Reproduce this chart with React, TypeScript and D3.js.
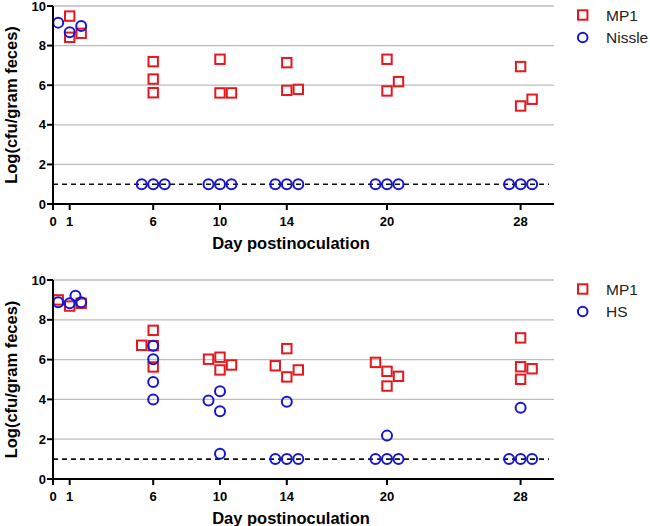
import * as d3 from "d3";

// x ticks (days) and y ticks
const dayTicks = [0, 1, 6, 10, 14, 20, 28];
const yTicks = [0, 2, 4, 6, 8, 10];
const detectionLimit = 1;

// [day, jitter slot, log cfu]
const topMP1 = [
  [1, 0, 9.49], [1, 0, 8.42], [1, 1, 8.62],
  [6, 0, 7.19], [6, 0, 6.31], [6, 0, 5.62],
  [10, 0, 7.31], [10, 0, 5.61], [10, 1, 5.61],
  [14, 0, 7.14], [14, 0, 5.74], [14, 1, 5.79],
  [20, 0, 7.31], [20, 0, 5.71], [20, 1, 6.18],
  [28, 0, 6.94], [28, 0, 4.95], [28, 1, 5.29],
];
const topNissle = [
  [1, -1, 9.16], [1, 0, 8.67], [1, 1, 8.99],
  [6, -1, 1], [6, 0, 1], [6, 1, 1],
  [10, -1, 1], [10, 0, 1], [10, 1, 1],
  [14, -1, 1], [14, 0, 1], [14, 1, 1],
  [20, -1, 1], [20, 0, 1], [20, 1, 1],
  [28, -1, 1], [28, 0, 1], [28, 1, 1],
];
const bottomMP1 = [
  [1, -1, 9.0], [1, 0, 8.69], [1, 1, 8.83],
  [6, -1, 6.72], [6, 0, 7.47], [6, 0, 6.7], [6, 0, 5.63],
  [10, -1, 6.02], [10, 0, 6.12], [10, 0, 5.48], [10, 1, 5.73],
  [14, -1, 5.69], [14, 0, 6.55], [14, 0, 5.13], [14, 1, 5.48],
  [20, -1, 5.86], [20, 0, 5.41], [20, 0, 4.67], [20, 1, 5.16],
  [28, 0, 7.09], [28, 0, 5.64], [28, 0, 5.01], [28, 1, 5.54],
];
const bottomHS = [
  [1, -1, 8.88], [1, 0, 8.83], [1, 0.5, 9.21], [1, 1, 8.88],
  [6, 0, 6.7], [6, 0, 6.02], [6, 0, 4.87], [6, 0, 4.0],
  [10, -1, 3.95], [10, 0, 4.41], [10, 0, 3.4], [10, 0, 1.27],
  [14, 0, 3.88], [14, -1, 1], [14, 0, 1], [14, 1, 1],
  [20, 0, 2.18], [20, -1, 1], [20, 0, 1], [20, 1, 1],
  [28, 0, 3.58], [28, -1, 1], [28, 0, 1], [28, 1, 1],
];

const RED = "#e3191f";
const BLUE = "#1616d2";
const FONT = "'Liberation Sans', Arial, sans-serif";
const JIT = 11.5;

const x = d3.scaleLinear().domain([0, 30]).range([53, 554]);

type Pt = number[];

const Panel = ({ y0, y1, mp1, other, otherName }: { y0: number; y1: number; mp1: Pt[]; other: Pt[]; otherName: string }) => {
  const y = d3.scaleLinear().domain([0, 10]).range([y0, y1]);
  const px = (d: Pt) => x(d[0]) + d[1] * JIT;
  return (
    <g>
      {yTicks.filter((t) => t > 0).map((t) => (
        <line key={"g" + t} x1={x(0)} x2={x(30)} y1={y(t)} y2={y(t)} stroke="#bdbdbd" strokeWidth={1.3} />
      ))}
      <line x1={x(0)} x2={x(29.7)} y1={y(detectionLimit)} y2={y(detectionLimit)} stroke="#111" strokeWidth={1.6} strokeDasharray="5,4" />
      {mp1.map((d, i) => (
        <rect key={"s" + i} x={px(d) - 4.7} y={y(d[2]) - 4.7} width={9.4} height={9.4} fill="none" stroke={RED} strokeWidth={2} />
      ))}
      {other.map((d, i) => (
        <circle key={"c" + i} cx={px(d)} cy={y(d[2])} r={5} fill="none" stroke={BLUE} strokeWidth={2} />
      ))}
      {/* axes */}
      <line x1={x(0)} x2={x(0)} y1={y(0) + 1} y2={y(10)} stroke="#000" strokeWidth={2} />
      <line x1={x(0) - 1} x2={x(30)} y1={y(0)} y2={y(0)} stroke="#000" strokeWidth={2} />
      {yTicks.map((t) => (
        <g key={"y" + t}>
          <line x1={x(0) - 6} x2={x(0)} y1={y(t)} y2={y(t)} stroke="#000" strokeWidth={2} />
          <text x={x(0) - 7} y={y(t)} dy="0.36em" textAnchor="end" fontSize={13} fontWeight="bold" fontFamily={FONT}>{t}</text>
        </g>
      ))}
      {dayTicks.map((t) => (
        <g key={"x" + t}>
          <line x1={x(t)} x2={x(t)} y1={y(0)} y2={y(0) + 6} stroke="#000" strokeWidth={2} />
          <text x={x(t)} y={y(0) + 22} textAnchor="middle" fontSize={13} fontWeight="bold" fontFamily={FONT}>{t}</text>
        </g>
      ))}
      <text x={291} y={y(0) + 45} textAnchor="middle" fontSize={16.5} fontWeight="bold" fontFamily={FONT}>Day postinoculation</text>
      <text transform={`translate(17,${(y(0) + y(10)) / 2}) rotate(-90)`} textAnchor="middle" fontSize={16.5} fontWeight="bold" fontFamily={FONT}>Log(cfu/gram feces)</text>
      {/* legend */}
      <rect x={578} y={y(10) + 4.3} width={9.4} height={9.4} fill="none" stroke={RED} strokeWidth={2} />
      <text x={606} y={y(10) + 9} dy="0.36em" fontSize={15.5} fill="#222" fontFamily={FONT}>MP1</text>
      <circle cx={582.7} cy={y(10) + 31.5} r={4.8} fill="none" stroke={BLUE} strokeWidth={2} />
      <text x={606} y={y(10) + 31.5} dy="0.36em" fontSize={15.5} fill="#222" fontFamily={FONT}>{otherName}</text>
    </g>
  );
};

export default function App() {
  return (
    <svg width={650} height={526} style={{ position: "absolute", left: 0, top: 0, background: "#fff" }}>
      <Panel y0={204} y1={6} mp1={topMP1} other={topNissle} otherName="Nissle" />
      <Panel y0={479} y1={280} mp1={bottomMP1} other={bottomHS} otherName="HS" />
    </svg>
  );
}
